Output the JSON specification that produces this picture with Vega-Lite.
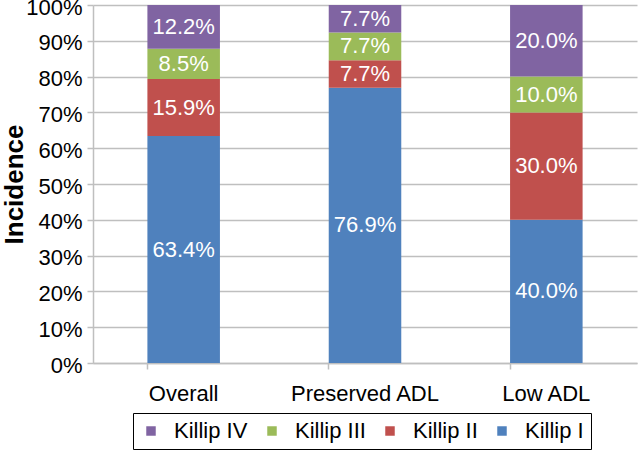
{
  "$schema": "https://vega.github.io/schema/vega-lite/v6.json",
  "width": 544,
  "height": 358,
  "autosize": "none",
  "padding": {"left": 93, "top": 5, "right": 1, "bottom": 88},
  "background": "white",
  "config": {
    "font": "Liberation Sans",
    "view": {"stroke": null}
  },
  "data": {
    "values": [
      {"group": "Overall", "cls": "Killip I", "v": 0.634},
      {"group": "Overall", "cls": "Killip II", "v": 0.159},
      {"group": "Overall", "cls": "Killip III", "v": 0.085},
      {"group": "Overall", "cls": "Killip IV", "v": 0.122},
      {"group": "Preserved ADL", "cls": "Killip I", "v": 0.769},
      {"group": "Preserved ADL", "cls": "Killip II", "v": 0.077},
      {"group": "Preserved ADL", "cls": "Killip III", "v": 0.077},
      {"group": "Preserved ADL", "cls": "Killip IV", "v": 0.077},
      {"group": "Low ADL", "cls": "Killip I", "v": 0.40},
      {"group": "Low ADL", "cls": "Killip II", "v": 0.30},
      {"group": "Low ADL", "cls": "Killip III", "v": 0.10},
      {"group": "Low ADL", "cls": "Killip IV", "v": 0.20}
    ]
  },
  "encoding": {
    "x": {
      "field": "group",
      "type": "nominal",
      "sort": ["Overall", "Preserved ADL", "Low ADL"],
      "scale": {"paddingInner": 0.6, "paddingOuter": 0.3},
      "axis": {
        "title": null,
        "labelAngle": 0,
        "labelFontSize": 22,
        "labelColor": "#000",
        "labelPadding": 14,
        "domainColor": "#BFBFBF",
        "domainWidth": 1.5,
        "tickColor": "#BFBFBF",
        "tickWidth": 1.5,
        "tickSize": 6,
        "bandPosition": 0,
        "grid": false
      }
    },
    "y": {
      "field": "v",
      "type": "quantitative",
      "stack": "zero",
      "scale": {"domain": [0, 1], "nice": false},
      "axis": {
        "title": "Incidence",
        "titleFontSize": 26,
        "titleFontWeight": "bold",
        "titleColor": "#000",
        "titleAngle": -90,
        "titleAlign": "center",
        "titleBaseline": "alphabetic",
        "titleX": -71,
        "titleY": 179,
        "format": ".0%",
        "values": [0, 0.1, 0.2, 0.3, 0.4, 0.5, 0.6, 0.7, 0.8, 0.9, 1],
        "labelFontSize": 22,
        "labelColor": "#000",
        "labelPadding": 5,
        "labelOffset": 2,
        "domainColor": "#BFBFBF",
        "domainWidth": 1.5,
        "tickColor": "#BFBFBF",
        "tickWidth": 1.5,
        "tickSize": 6,
        "gridColor": "#BFBFBF",
        "gridWidth": 1.5
      }
    },
    "order": {"field": "cls", "sort": "ascending"}
  },
  "layer": [
    {
      "mark": {"type": "bar"},
      "encoding": {
        "color": {
          "field": "cls",
          "type": "nominal",
          "scale": {
            "domain": ["Killip IV", "Killip III", "Killip II", "Killip I"],
            "range": ["#8064A2", "#9BBB59", "#C0504D", "#4F81BD"]
          },
          "legend": {
            "title": null,
            "orient": "none",
            "legendX": 40,
            "legendY": 408,
            "direction": "horizontal",
            "strokeColor": "#000",
            "fillColor": "white",
            "padding": 7,
            "symbolType": "square",
            "symbolSize": 90,
            "symbolStrokeWidth": 0,
            "symbolOffset": 0,
            "labelFontSize": 22,
            "labelColor": "#000",
            "labelOffset": 12,
            "columnPadding": 13
          }
        }
      }
    },
    {
      "mark": {"type": "text", "color": "white", "fontSize": 22, "baseline": "middle", "align": "center"},
      "encoding": {
        "y": {"field": "v", "type": "quantitative", "stack": "zero", "bandPosition": 0.5},
        "text": {"field": "v", "type": "quantitative", "format": ".1%"}
      }
    }
  ]
}
